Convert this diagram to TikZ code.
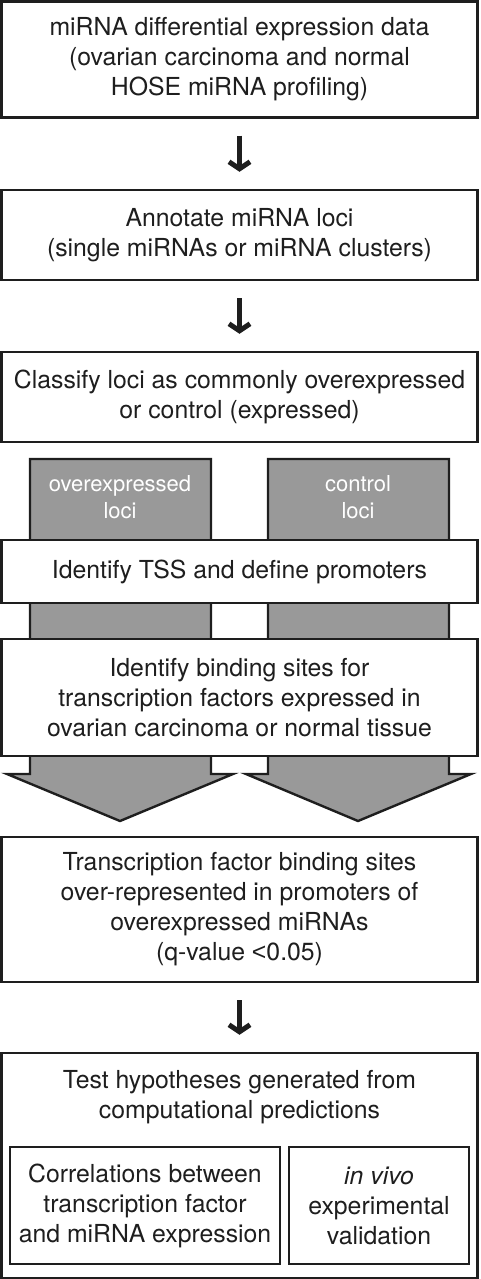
\documentclass[tikz,border=0pt]{standalone}
\usepackage{fontspec}
\setmainfont{TeX Gyre Heros}
\newfontfamily\signfont{Liberation Sans}
\usepackage{tikz}
\usetikzlibrary{arrows.meta}

\definecolor{inkgray}{RGB}{30,30,30}
\definecolor{locigray}{RGB}{153,153,153}

\tikzset{
  stepbox/.style={draw=inkgray, line width=2.4pt, fill=white, text=inkgray,
    align=center, inner sep=0pt, font=\fontsize{24.8}{30}\selectfont},
  subbox/.style={stepbox, line width=2.8pt},
  locitext/.style={text=white, align=center, font=\fontsize{22}{27}\selectfont},
  flowarrow/.style={draw=inkgray, line width=5pt,
    -{Straight Barb[length=7pt,width=21pt,line width=5pt]},
    shorten <=17pt, shorten >=17pt},
  bigarrow/.style={draw=inkgray, line width=2.4pt, fill=locigray, line join=miter}
}

\begin{document}
\begin{tikzpicture}[x=1pt,y=-1pt]
    \useasboundingbox (0,0) rectangle (480,1279);
    % grey arrows for the two groups of loci
    \draw[bigarrow] (30,459) -- (30,774) -- (7,774) -- (120,821) -- (233,774)
        -- (211,774) -- (211,459) -- cycle;
    \draw[bigarrow] (268,459) -- (268,774) -- (246,774) -- (358,821) -- (471,774)
        -- (449,774) -- (449,459) -- cycle;
    \node[locitext] (over) at (120,497) {overexpressed\\loci};
    \node[locitext] (ctrl) at (358,497) {control\\loci};
    % steps
    \node[stepbox, minimum width=476pt, minimum height=116pt] (data) at (239.5,59.5)
        {miRNA differential expression data\\(ovarian carcinoma and normal\\HOSE miRNA profiling)};
    \node[stepbox, minimum width=476pt, minimum height=90pt] (annot) at (239.5,235)
        {Annotate miRNA loci\\(single miRNAs or miRNA clusters)};
    \node[stepbox, minimum width=476pt, minimum height=90pt] (class) at (239.5,397)
        {Classify loci as commonly overexpressed\\or control (expressed)};
    \node[stepbox, minimum width=476pt, minimum height=63pt] (tss) at (239.5,571.5)
        {Identify TSS and define promoters};
    \node[stepbox, minimum width=476pt, minimum height=117pt] (sites) at (239.5,697.5)
        {Identify binding sites for\\transcription factors expressed in\\ovarian carcinoma or normal tissue};
    \node[stepbox, minimum width=476pt, minimum height=145pt] (tfbs) at (239.5,909.5)
        {Transcription factor binding sites\\over-represented in promoters of\\overexpressed miRNAs\\(q-value {\signfont<}0.05)};
    \node[stepbox, minimum width=476pt, minimum height=225pt] (test) at (239.5,1165.5) {};
    \node[text=inkgray, align=center, font=\fontsize{24.8}{30}\selectfont] (testtxt) at (239.5,1097)
        {Test hypotheses generated from\\computational predictions};
    \node[subbox, minimum width=270pt, minimum height=117pt] (corr) at (145,1205.5)
        {Correlations between\\transcription factor\\and miRNA expression};
    \node[subbox, minimum width=180pt, minimum height=117pt] (vivo) at (379,1205.5)
        {\itshape in vivo\\experimental\\validation};
    % arrows
    \draw[flowarrow] (data) -- (annot);
    \draw[flowarrow] (annot) -- (class);
    \draw[flowarrow] (tfbs) -- (test);
\end{tikzpicture}
\end{document}
